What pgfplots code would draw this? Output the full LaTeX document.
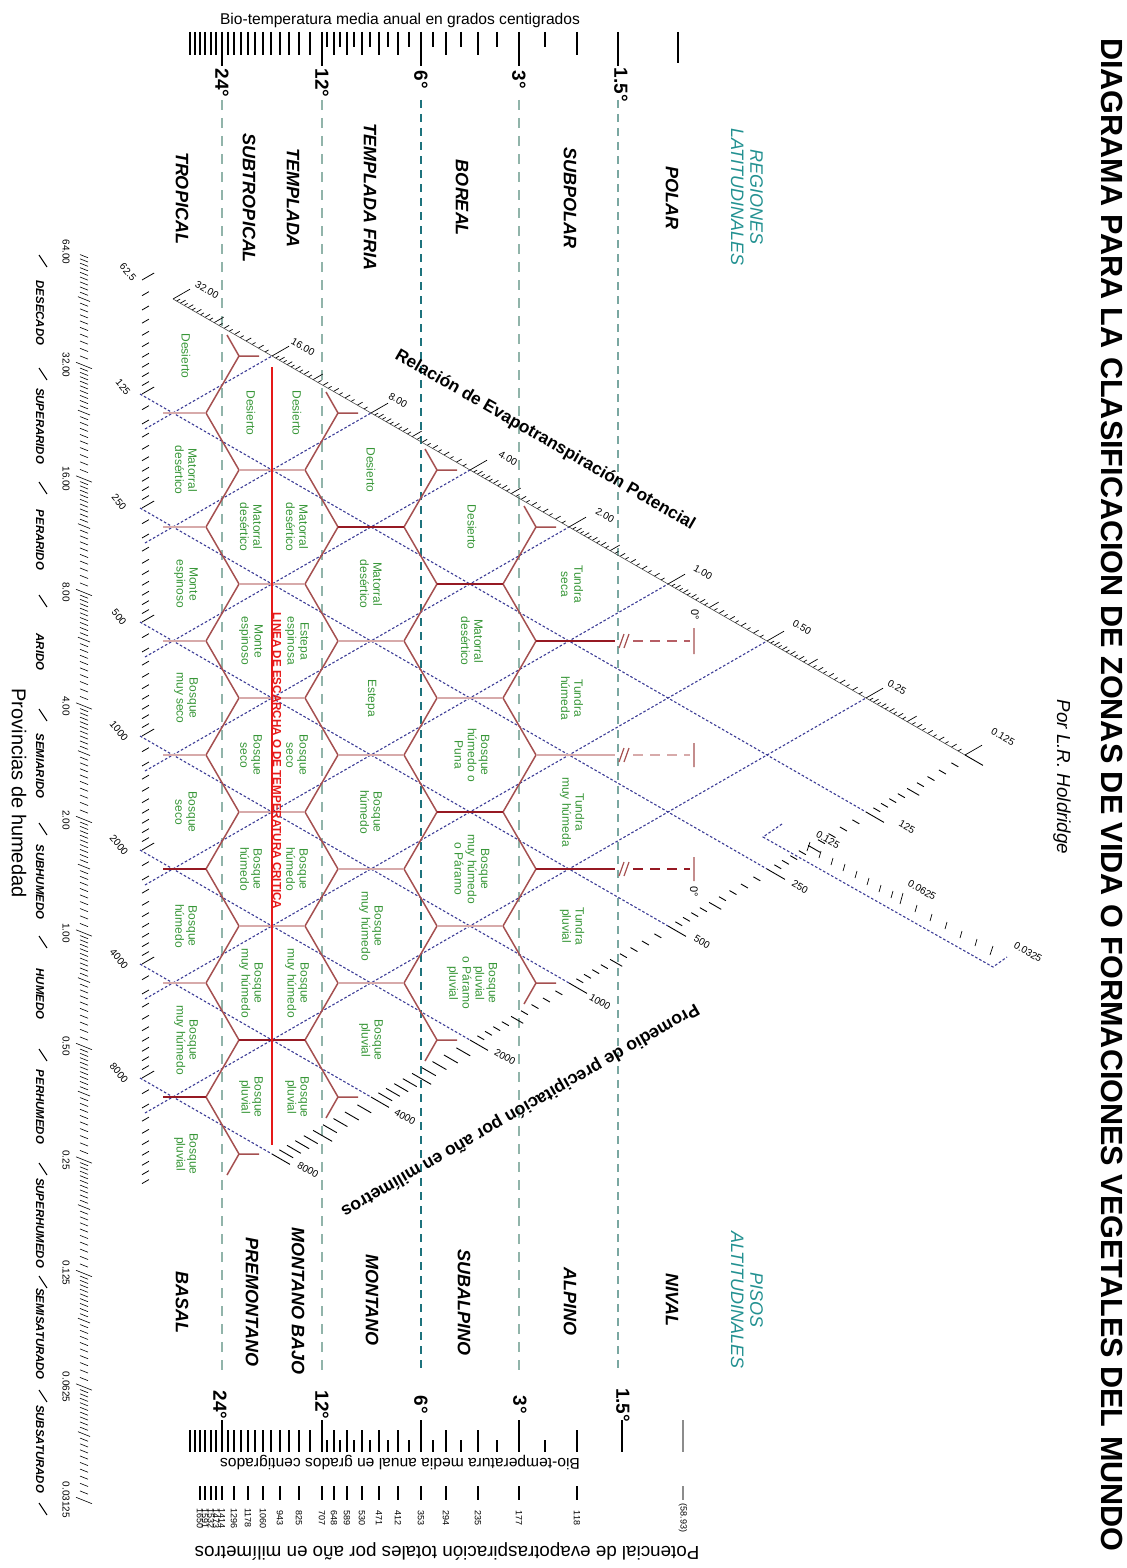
\documentclass[border=0pt]{standalone}
\usepackage{pgfplots}
\pgfplotsset{compat=1.18}
\usepackage{fontspec}
\setmainfont{Liberation Sans}
\definecolor{hexc}{RGB}{165,80,80}
\definecolor{hexdark}{RGB}{150,25,35}
\definecolor{hexlight}{RGB}{215,170,170}
\definecolor{dotc}{RGB}{60,60,150}
\definecolor{tempc}{RGB}{145,180,170}
\definecolor{tempd}{RGB}{30,115,125}
\definecolor{vegc}{RGB}{55,150,55}
\definecolor{tealc}{RGB}{35,145,145}
\definecolor{redc}{RGB}{230,25,25}
\newcommand{\veg}[3]{\node[rotate=-90,align=center,text=vegc,inner sep=0pt,font=\fontsize{6}{6.6}\selectfont] at (axis cs:#1,#2) {#3};}
\newcommand{\reg}[3]{\node[rotate=-90,inner sep=0pt,font=\bfseries\itshape\fontsize{9}{10}\selectfont] at (axis cs:#1,#2) {#3};}
\newcommand{\lab}[4]{\node[rotate=#3,inner sep=0pt,font=\fontsize{5}{5}\selectfont] at (axis cs:#1,#2) {#4};}
\newcommand{\hum}[2]{\node[rotate=-90,inner sep=0pt,font=\bfseries\itshape\fontsize{5.7}{6}\selectfont] at (axis cs:40,#1) {#2};}
\newcommand{\pet}[2]{\node[rotate=-90,inner sep=0pt,font=\fontsize{4.5}{4.5}\selectfont] at (axis cs:#1,1518) {#2};}
\begin{document}
\begin{tikzpicture}
% ---- PET ratio axis ticks (upper diagonal)
\gdef\petbuf{}
\foreach \u in {0,...,7}{\foreach \i in {1,...,19}{%
 \pgfmathsetmacro\p{\u+1-ln(1+\i/20)/ln(2)}%
 \pgfmathsetmacro\L{4+2*(mod(\i,2)==0)+5*(\i==10)}%
 \pgfmathsetmacro\xa{173+99*\p}\pgfmathsetmacro\ya{299+57*\p}%
 \pgfmathsetmacro\xb{\xa+0.866*\L}\pgfmathsetmacro\yb{\ya-0.5*\L}%
 \xdef\petbuf{\petbuf(\xa,\ya)(\xb,\yb)(nan,nan)}}}
\foreach \u in {0,...,8}{%
 \pgfmathsetmacro\xa{173+99*\u}\pgfmathsetmacro\ya{299+57*\u}%
 \pgfmathsetmacro\xb{\xa+17}\pgfmathsetmacro\yb{\ya-9.8}%
 \xdef\petbuf{\petbuf(\xa,\ya)(\xb,\yb)(nan,nan)}}
% ---- precipitation axis ticks (lower diagonal)
\gdef\prebuf{}
\foreach \u in {-1,...,5}{\foreach \i in {1,...,9}{%
 \pgfmathsetmacro\p{\u+ln(1+\i/10)/ln(2)}%
 \pgfmathsetmacro\L{8+6*(\i==5)+8*(\u>3)}%
 \pgfmathsetmacro\xa{866-99*\p}\pgfmathsetmacro\ya{812+57*\p}%
 \pgfmathsetmacro\xb{\xa+0.866*\L}\pgfmathsetmacro\yb{\ya+0.5*\L}%
 \xdef\prebuf{\prebuf(\xa,\ya)(\xb,\yb)(nan,nan)}}}
\foreach \u in {-1,...,6}{%
 \pgfmathsetmacro\xa{866-99*\u}\pgfmathsetmacro\ya{812+57*\u}%
 \pgfmathsetmacro\xb{\xa+18}\pgfmathsetmacro\yb{\ya+10.4}%
 \xdef\prebuf{\prebuf(\xa,\ya)(\xb,\yb)(nan,nan)}}
% ---- left precipitation scale
\gdef\lpbuf{}
\foreach \u in {0,...,7}{\foreach \i in {0,...,9}{%
 \pgfmathsetmacro\p{\u+ln(1+\i/10)/ln(2)}%
 \pgfmathsetmacro\L{8+6*(\i==0)}%
 \pgfmathsetmacro\ya{280+114*\p}%
 \pgfmathsetmacro\xb{142+0.866*\L}\pgfmathsetmacro\yb{\ya-0.5*\L}%
 \xdef\lpbuf{\lpbuf(142,\ya)(\xb,\yb)(nan,nan)}}}
% ---- humidity (PET ratio) scale on the far left
\gdef\hubuf{}
\foreach \u in {0,...,10}{\foreach \i in {0,...,19}{%
 \pgfmathsetmacro\p{\u+1-ln(1+\i/20)/ln(2)}%
 \pgfmathsetmacro\L{4+4*(\i==0)+2*(\i==10)}%
 \pgfmathsetmacro\ya{252+113.5*\p}%
 \pgfmathsetmacro\xa{84-\L}\pgfmathsetmacro\xb{84+\L}%
 \pgfmathsetmacro\yu{\ya-0.4*\L}\pgfmathsetmacro\yd{\ya+0.4*\L}%
 \xdef\hubuf{\hubuf(\xa,\yu)(\xb,\yd)(nan,nan)}}}
\begin{axis}[scale only axis, width=563pt, height=784pt,
  xmin=0, xmax=1126, ymin=0, ymax=1568, y dir=reverse,
  hide axis, clip=false]
% ---------- temperature guide lines
\addplot[tempc, line width=1.1pt, dash pattern=on 5pt off 4pt] coordinates {(222,100)(222,1370)};
\addplot[tempc, line width=1.1pt, dash pattern=on 5pt off 4pt] coordinates {(322,100)(322,1370)};
\addplot[tempd, line width=0.7pt, dash pattern=on 4pt off 3pt] coordinates {(421,100)(421,1370)};
\addplot[tempc, line width=1.1pt, dash pattern=on 5pt off 4pt] coordinates {(519,100)(519,1370)};
\addplot[tempc!80!tempd, line width=0.7pt, dash pattern=on 4pt off 3pt] coordinates {(618,100)(618,1370)};
% ---------- precipitation lines (dotted)
\pgfplotsset{dotl/.style={dotc, line width=0.55pt, dash pattern=on 1.3pt off 1pt}}
\addplot[dotl] coordinates {(140,394)(866,812)};
\addplot[dotl] coordinates {(140,508)(767,869)};
\addplot[dotl] coordinates {(140,622)(668,926)};
\addplot[dotl] coordinates {(140,736)(569,983)};
\addplot[dotl] coordinates {(140,850)(470,1040)};
\addplot[dotl] coordinates {(140,964)(371,1097)};
\addplot[dotl] coordinates {(140,1078)(272,1154)};
% ---------- PET ratio lines (dotted)
\addplot[dotl] coordinates {(145,429)(272,356)};
\addplot[dotl] coordinates {(145,543)(371,413)};
\addplot[dotl] coordinates {(145,657)(470,470)};
\addplot[dotl] coordinates {(145,771)(569,527)};
\addplot[dotl] coordinates {(145,885)(668,584)};
\addplot[dotl] coordinates {(145,999)(767,641)};
\addplot[dotl] coordinates {(145,1113)(866,698)};
% ---------- small extra scale near the apex
\addplot[dotl] coordinates {(782,824)(763,837)(993,967)(1007,957)};
\addplot[black, line width=0.35pt, unbounded coords=jump] coordinates {
(807,851)(810,842)(nan,nan)(819,858)(821,851)(nan,nan)(831,865)(833,858)(nan,nan)(843,871)(845,864)(nan,nan)
(855,878)(857,871)(nan,nan)(867,885)(869,878)(nan,nan)(879,892)(881,885)(nan,nan)(891,898)(893,891)(nan,nan)
(900,904)(903,893)(nan,nan)(915,912)(917,905)(nan,nan)(930,921)(932,914)(nan,nan)(945,929)(947,922)(nan,nan)
(960,938)(962,931)(nan,nan)(975,946)(977,939)(nan,nan)(990,955)(993,946)};
% ---------- tick rows of the diagonal scales
\edef\tmp{\noexpand\addplot[black, line width=0.35pt, unbounded coords=jump] coordinates {\petbuf};}\tmp
\addplot[black!70, line width=0.3pt] coordinates {(173,299)(965,755)};
\edef\tmp{\noexpand\addplot[black, line width=0.45pt, unbounded coords=jump] coordinates {\prebuf};}\tmp
\edef\tmp{\noexpand\addplot[black, line width=0.4pt, unbounded coords=jump] coordinates {\lpbuf};}\tmp
\edef\tmp{\noexpand\addplot[black, line width=0.3pt, unbounded coords=jump] coordinates {\hubuf};}\tmp
% ---------- hexagon network: zigzag edges between belts
\addplot[hexc, line width=0.75pt] coordinates {(239,356)(206,413)(239,470)(206,527)(239,584)(206,641)(239,698)(206,755)(239,812)(206,869)(239,926)(206,983)(239,1040)(206,1097)(239,1154)};
\addplot[hexc, line width=0.75pt] coordinates {(338,413)(305,470)(338,527)(305,584)(338,641)(305,698)(338,755)(305,812)(338,869)(305,926)(338,983)(305,1040)(338,1097)};
\addplot[hexc, line width=0.75pt] coordinates {(437,470)(404,527)(437,584)(404,641)(437,698)(404,755)(437,812)(404,869)(437,926)(404,983)(437,1040)};
\addplot[hexc, line width=0.75pt] coordinates {(536,527)(503,584)(536,641)(503,698)(536,755)(503,812)(536,869)(503,926)(536,983)};
% stubs on the border
\addplot[hexc, line width=0.75pt, unbounded coords=jump] coordinates {
(259,356)(239,356)(227,335)(nan,nan)(358,413)(338,413)(326,392)(nan,nan)(457,470)(437,470)(425,449)(nan,nan)(556,527)(536,527)(524,506)(nan,nan)
(259,1154)(239,1154)(227,1175)(nan,nan)(358,1097)(338,1097)(326,1118)(nan,nan)(457,1040)(437,1040)(425,1061)(nan,nan)(556,983)(536,983)(524,1004)};
% horizontal edges (light)
\addplot[hexlight, line width=1.4pt, unbounded coords=jump] coordinates {
(163,413)(206,413)(nan,nan)(163,527)(206,527)(nan,nan)(163,641)(206,641)(nan,nan)(163,755)(206,755)(nan,nan)(163,983)(206,983)(nan,nan)
(239,470)(305,470)(nan,nan)(239,584)(305,584)(nan,nan)(239,698)(305,698)(nan,nan)(239,812)(305,812)(nan,nan)(239,926)(305,926)(nan,nan)
(338,641)(404,641)(nan,nan)(338,755)(404,755)(nan,nan)(338,869)(404,869)(nan,nan)(338,983)(404,983)(nan,nan)
(437,698)(503,698)(nan,nan)(437,926)(503,926)(nan,nan)(536,755)(615,755)};
% horizontal edges (dark)
\addplot[hexdark, line width=1.2pt, unbounded coords=jump] coordinates {
(163,869)(206,869)(nan,nan)(163,1097)(206,1097)(nan,nan)(239,1040)(305,1040)(nan,nan)(338,527)(404,527)(nan,nan)
(437,584)(503,584)(nan,nan)(437,812)(503,812)(nan,nan)(536,641)(615,641)(nan,nan)(536,869)(615,869)};
% polar extensions
\addplot[hexdark!70, line width=1.1pt, dash pattern=on 5pt off 3.5pt] coordinates {(633,641)(690,641)};
\addplot[hexlight, line width=1.1pt, dash pattern=on 5pt off 3.5pt] coordinates {(633,755)(690,755)};
\addplot[hexdark, line width=1.1pt, dash pattern=on 5pt off 3.5pt] coordinates {(633,869)(690,869)};
\addplot[hexc, line width=0.6pt, unbounded coords=jump] coordinates {
(619,648)(624,634)(nan,nan)(624,648)(629,634)(nan,nan)(619,762)(624,748)(nan,nan)(624,762)(629,748)(nan,nan)
(619,876)(624,862)(nan,nan)(624,876)(629,862)(nan,nan)(694,628)(694,654)(nan,nan)(694,743)(694,767)(nan,nan)(694,857)(694,881)};
% critical temperature line
\addplot[redc, line width=1pt] coordinates {(272,367)(272,1145)};
% ---------- top temperature scale
\addplot[black, line width=0.8pt, unbounded coords=jump] coordinates {
(222,32)(222,66)(nan,nan)(322,32)(322,66)(nan,nan)(421,32)(421,66)(nan,nan)(519,32)(519,66)(nan,nan)(618,32)(618,66)(nan,nan)(678,32)(678,63)(nan,nan)
(190,32)(190,55)(nan,nan)(195,32)(195,55)(nan,nan)(200,32)(200,55)(nan,nan)(205,32)(205,55)(nan,nan)(211,32)(211,55)(nan,nan)(216,32)(216,55)(nan,nan)
(228,32)(228,55)(nan,nan)(234,32)(234,55)(nan,nan)(241,32)(241,55)(nan,nan)(248,32)(248,55)(nan,nan)(255,32)(255,55)(nan,nan)(263,32)(263,55)(nan,nan)
(271,32)(271,55)(nan,nan)(280,32)(280,55)(nan,nan)(289,32)(289,55)(nan,nan)(299,32)(299,55)(nan,nan)(310,32)(310,55)(nan,nan)(334,32)(334,55)(nan,nan)
(347,32)(347,55)(nan,nan)(362,32)(362,55)(nan,nan)(379,32)(379,55)(nan,nan)(398,32)(398,55)(nan,nan)(446,32)(446,55)(nan,nan)(478,32)(478,55)(nan,nan)(577,32)(577,55)(nan,nan)
(327,32)(327,47)(nan,nan)(340,32)(340,47)(nan,nan)(354,32)(354,47)(nan,nan)(370,32)(370,47)(nan,nan)(388,32)(388,47)(nan,nan)(409,32)(409,47)(nan,nan)
(433,32)(433,47)(nan,nan)(461,32)(461,47)(nan,nan)(497,32)(497,47)(nan,nan)(545,32)(545,47)};
% ---------- bottom temperature scale
\addplot[black, line width=0.8pt, unbounded coords=jump] coordinates {
(222,1420)(222,1452)(nan,nan)(322,1420)(322,1452)(nan,nan)(421,1420)(421,1452)(nan,nan)(519,1420)(519,1452)(nan,nan)(622,1420)(622,1452)(nan,nan)
(190,1430)(190,1452)(nan,nan)(195,1430)(195,1452)(nan,nan)(200,1430)(200,1452)(nan,nan)(205,1430)(205,1452)(nan,nan)(211,1430)(211,1452)(nan,nan)(216,1430)(216,1452)(nan,nan)
(228,1430)(228,1452)(nan,nan)(234,1430)(234,1452)(nan,nan)(241,1430)(241,1452)(nan,nan)(248,1430)(248,1452)(nan,nan)(255,1430)(255,1452)(nan,nan)(263,1430)(263,1452)(nan,nan)
(271,1430)(271,1452)(nan,nan)(280,1430)(280,1452)(nan,nan)(289,1430)(289,1452)(nan,nan)(299,1430)(299,1452)(nan,nan)(310,1430)(310,1452)(nan,nan)(334,1430)(334,1452)(nan,nan)
(347,1430)(347,1452)(nan,nan)(362,1430)(362,1452)(nan,nan)(379,1430)(379,1452)(nan,nan)(398,1430)(398,1452)(nan,nan)(446,1430)(446,1452)(nan,nan)(478,1430)(478,1452)(nan,nan)(577,1430)(577,1452)(nan,nan)
(327,1440)(327,1452)(nan,nan)(340,1440)(340,1452)(nan,nan)(354,1440)(354,1452)(nan,nan)(370,1440)(370,1452)(nan,nan)(388,1440)(388,1452)(nan,nan)(409,1440)(409,1452)(nan,nan)
(433,1440)(433,1452)(nan,nan)(461,1440)(461,1452)(nan,nan)(497,1440)(497,1452)(nan,nan)(545,1440)(545,1452)};
\addplot[black!45, line width=0.8pt] coordinates {(683,1420)(683,1452)};
% PET ticks row
\addplot[black, line width=0.6pt, unbounded coords=jump] coordinates {
(577,1486)(577,1500)(nan,nan)(519,1486)(519,1500)(nan,nan)(478,1486)(478,1500)(nan,nan)(446,1486)(446,1500)(nan,nan)(421,1486)(421,1500)(nan,nan)
(398,1486)(398,1500)(nan,nan)(379,1486)(379,1500)(nan,nan)(362,1486)(362,1500)(nan,nan)(347,1486)(347,1500)(nan,nan)(334,1486)(334,1500)(nan,nan)
(322,1486)(322,1500)(nan,nan)(299,1486)(299,1500)(nan,nan)(280,1486)(280,1500)(nan,nan)(263,1486)(263,1500)(nan,nan)(248,1486)(248,1500)(nan,nan)
(234,1486)(234,1500)(nan,nan)(222,1486)(222,1500)(nan,nan)(216,1486)(216,1500)(nan,nan)(211,1486)(211,1500)(nan,nan)(205,1486)(205,1500)(nan,nan)(200,1486)(200,1500)};
\addplot[black!45, line width=0.6pt] coordinates {(683,1486)(683,1500)};
% ---------- texts
\node[rotate=-90,inner sep=0pt,font=\bfseries\fontsize{15.3}{16}\selectfont] at (axis cs:1112,795) {DIAGRAMA PARA LA CLASIFICACION DE ZONAS DE VIDA O FORMACIONES VEGETALES DEL MUNDO};
\node[rotate=-90,inner sep=0pt,font=\itshape\fontsize{9.4}{10}\selectfont] at (axis cs:1062,777) {Por L.R. Holdridge};
\node[rotate=-90,inner sep=0pt,align=center,text=tealc,font=\itshape\fontsize{9}{9.6}\selectfont] at (axis cs:747,197) {REGIONES\\LATITUDINALES};
\node[rotate=-90,inner sep=0pt,align=center,text=tealc,font=\itshape\fontsize{9}{9.6}\selectfont] at (axis cs:747,1300) {PISOS\\ALTITUDINALES};
\reg{672}{198}{POLAR}
\reg{570}{198}{SUBPOLAR}
\reg{462}{198}{BOREAL}
\reg{370}{197}{TEMPLADA FRIA}
\reg{293}{198}{TEMPLADA}
\reg{249}{198}{SUBTROPICAL}
\reg{182}{198}{TROPICAL}
\reg{672}{1300}{NIVAL}
\reg{570}{1301}{ALPINO}
\reg{464}{1302}{SUBALPINO}
\reg{372}{1300}{MONTANO}
\reg{298}{1301}{MONTANO BAJO}
\reg{252}{1302}{PREMONTANO}
\reg{182}{1302}{BASAL}
% temperature labels
\node[rotate=-90,inner sep=0pt,font=\bfseries\fontsize{9.5}{10}\selectfont] at (axis cs:222,83) {24°};
\node[rotate=-90,inner sep=0pt,font=\bfseries\fontsize{9.5}{10}\selectfont] at (axis cs:322,83) {12°};
\node[rotate=-90,inner sep=0pt,font=\bfseries\fontsize{9.5}{10}\selectfont] at (axis cs:421,80) {6°};
\node[rotate=-90,inner sep=0pt,font=\bfseries\fontsize{9.5}{10}\selectfont] at (axis cs:519,80) {3°};
\node[rotate=-90,inner sep=0pt,font=\bfseries\fontsize{9.5}{10}\selectfont] at (axis cs:621,85) {1.5°};
\node[rotate=-90,inner sep=0pt,font=\bfseries\fontsize{9.5}{10}\selectfont] at (axis cs:220,1405) {24°};
\node[rotate=-90,inner sep=0pt,font=\bfseries\fontsize{9.5}{10}\selectfont] at (axis cs:322,1405) {12°};
\node[rotate=-90,inner sep=0pt,font=\bfseries\fontsize{9.5}{10}\selectfont] at (axis cs:421,1405) {6°};
\node[rotate=-90,inner sep=0pt,font=\bfseries\fontsize{9.5}{10}\selectfont] at (axis cs:520,1405) {3°};
\node[rotate=-90,inner sep=0pt,font=\bfseries\fontsize{9.5}{10}\selectfont] at (axis cs:623,1405) {1.5°};
\node[inner sep=0pt,font=\fontsize{7.8}{8}\selectfont] at (axis cs:400,20) {Bio-temperatura media anual en grados centigrados};
\node[rotate=180,inner sep=0pt,font=\fontsize{7.8}{8}\selectfont] at (axis cs:400,1463) {Bio-temperatura media anual en grados centigrados};
\node[rotate=180,inner sep=0pt,font=\fontsize{9.4}{10}\selectfont] at (axis cs:447,1551) {Potencial de evapotraspiración totales por año en milímetros};
\node[rotate=-90,inner sep=0pt,font=\fontsize{10}{12}\selectfont] at (axis cs:19,793) {Provincias de humedad};
% polar 0 degree labels
\node[rotate=-90,inner sep=0pt,font=\fontsize{5.5}{6}\selectfont] at (axis cs:695,615) {0°};
\node[rotate=-90,inner sep=0pt,font=\fontsize{5.5}{6}\selectfont] at (axis cs:694,892) {0°};
% axis titles
\node[rotate=-30,inner sep=0pt,font=\bfseries\fontsize{8.6}{9}\selectfont] at (axis cs:545,440) {Relación de Evapotranspiración Potencial};
\node[rotate=-150,inner sep=0pt,font=\bfseries\fontsize{8.8}{9}\selectfont] at (axis cs:520,1110) {Promedio de precipitación por año en milímetros};
% PET ratio labels
\lab{207}{290}{-30}{32.00}
\lab{303}{347}{-30}{16.00}
\lab{398}{400}{-30}{8.00}
\lab{508}{458}{-30}{4.00}
\lab{605}{515}{-30}{2.00}
\lab{703}{572}{-30}{1.00}
\lab{802}{627}{-30}{0.50}
\lab{897}{687}{-30}{0.25}
\lab{1003}{737}{-30}{0.125}
\lab{828}{840}{-30}{0.125}
\lab{922}{890}{-30}{0.0625}
\lab{1028}{952}{-30}{0.0325}
% precipitation labels on the lower diagonal
\lab{907}{827}{-30}{125}
\lab{800}{887}{-30}{250}
\lab{702}{942}{-30}{500}
\lab{600}{1002}{-30}{1000}
\lab{505}{1057}{-30}{2000}
\lab{405}{1117}{-30}{4000}
\lab{308}{1170}{-30}{8000}
% precipitation labels on the left
\lab{128}{272}{-50}{62.5}
\lab{123}{387}{-50}{125}
\lab{119}{502}{-50}{250}
\lab{119}{617}{-50}{500}
\lab{119}{731}{-50}{1000}
\lab{119}{845}{-50}{2000}
\lab{119}{959}{-50}{4000}
\lab{119}{1073}{-50}{8000}
% humidity ratio labels
\lab{66}{252}{-90}{64.00}
\lab{66}{365}{-90}{32.00}
\lab{66}{479}{-90}{16.00}
\lab{66}{592}{-90}{8.00}
\lab{66}{706}{-90}{4.00}
\lab{66}{820}{-90}{2.00}
\lab{66}{933}{-90}{1.00}
\lab{66}{1046}{-90}{0.50}
\lab{66}{1160}{-90}{0.25}
\lab{66}{1273}{-90}{0.125}
\lab{66}{1387}{-90}{0.0625}
\lab{66}{1500}{-90}{0.03125}
\addplot[black, line width=0.5pt, unbounded coords=jump] coordinates {
(39,255)(47,267)(nan,nan)(39,368)(47,380)(nan,nan)(39,482)(47,494)(nan,nan)(39,595)(47,607)(nan,nan)(39,709)(47,721)(nan,nan)(39,823)(47,835)(nan,nan)
(39,936)(47,948)(nan,nan)(39,1049)(47,1061)(nan,nan)(39,1163)(47,1175)(nan,nan)(39,1276)(47,1288)(nan,nan)(39,1390)(47,1402)(nan,nan)(39,1503)(47,1515)};
\hum{313}{DESECADO}
\hum{426}{SUPERARIDO}
\hum{540}{PERARIDO}
\hum{652}{ARIDO}
\hum{766}{SEMIARIDO}
\hum{882}{SUBHUMEDO}
\hum{994}{HUMEDO}
\hum{1107}{PERHUMEDO}
\hum{1223}{SUPERHUMEDO}
\hum{1334}{SEMISATURADO}
\hum{1449}{SUBSATURADO}
% PET values
\pet{683}{(58.93)}
\pet{577}{118}
\pet{519}{177}
\pet{478}{235}
\pet{446}{294}
\pet{421}{353}
\pet{398}{412}
\pet{379}{471}
\pet{362}{530}
\pet{347}{589}
\pet{334}{648}
\pet{322}{707}
\pet{299}{825}
\pet{280}{943}
\pet{263}{1060}
\pet{248}{1178}
\pet{234}{1296}
\pet{222}{1414}
\pet{216}{1473}
\pet{211}{1532}
\pet{205}{1591}
\pet{200}{1650}
% critical line text
\node[rotate=-90,inner sep=0pt,text=redc,font=\bfseries\fontsize{5.8}{6}\selectfont] at (axis cs:277,761) {LINEA DE ESCARCHA O DE TEMPERATURA CRITICA};
% ---------- life zone names
\veg{186}{356}{Desierto}
\veg{186}{470}{Matorral\\desértico}
\veg{186}{584}{Monte\\espinoso}
\veg{186}{698}{Bosque\\muy seco}
\veg{186}{812}{Bosque\\seco}
\veg{186}{926}{Bosque\\húmedo}
\veg{186}{1040}{Bosque\\muy húmedo}
\veg{186}{1154}{Bosque\\pluvial}
\veg{251}{413}{Desierto}
\veg{251}{527}{Matorral\\desértico}
\veg{251}{641}{Monte\\espinoso}
\veg{251}{755}{Bosque\\seco}
\veg{251}{869}{Bosque\\húmedo}
\veg{251}{983}{Bosque\\muy húmedo}
\veg{251}{1097}{Bosque\\pluvial}
\veg{297}{413}{Desierto}
\veg{297}{527}{Matorral\\desértico}
\veg{297}{641}{Estepa\\espinosa}
\veg{297}{755}{Bosque\\seco}
\veg{297}{869}{Bosque\\húmedo}
\veg{297}{983}{Bosque\\muy húmedo}
\veg{297}{1097}{Bosque\\pluvial}
\veg{371}{470}{Desierto}
\veg{371}{584}{Matorral\\desértico}
\veg{371}{698}{Estepa}
\veg{371}{812}{Bosque\\húmedo}
\veg{371}{926}{Bosque\\muy húmedo}
\veg{371}{1040}{Bosque\\pluvial}
\veg{472}{527}{Desierto}
\veg{472}{641}{Matorral\\desértico}
\veg{472}{755}{Bosque\\húmedo o\\Puna}
\veg{472}{869}{Bosque\\muy húmedo\\o Páramo}
\veg{472}{983}{Bosque\\pluvial\\o Páramo\\pluvial}
\veg{572}{584}{Tundra\\seca}
\veg{572}{698}{Tundra\\húmeda}
\veg{572}{812}{Tundra\\muy húmeda}
\veg{572}{926}{Tundra\\pluvial}
\end{axis}
\pgfresetboundingbox
\useasboundingbox (current axis.south west) rectangle (current axis.north east);
\end{tikzpicture}
\end{document}
